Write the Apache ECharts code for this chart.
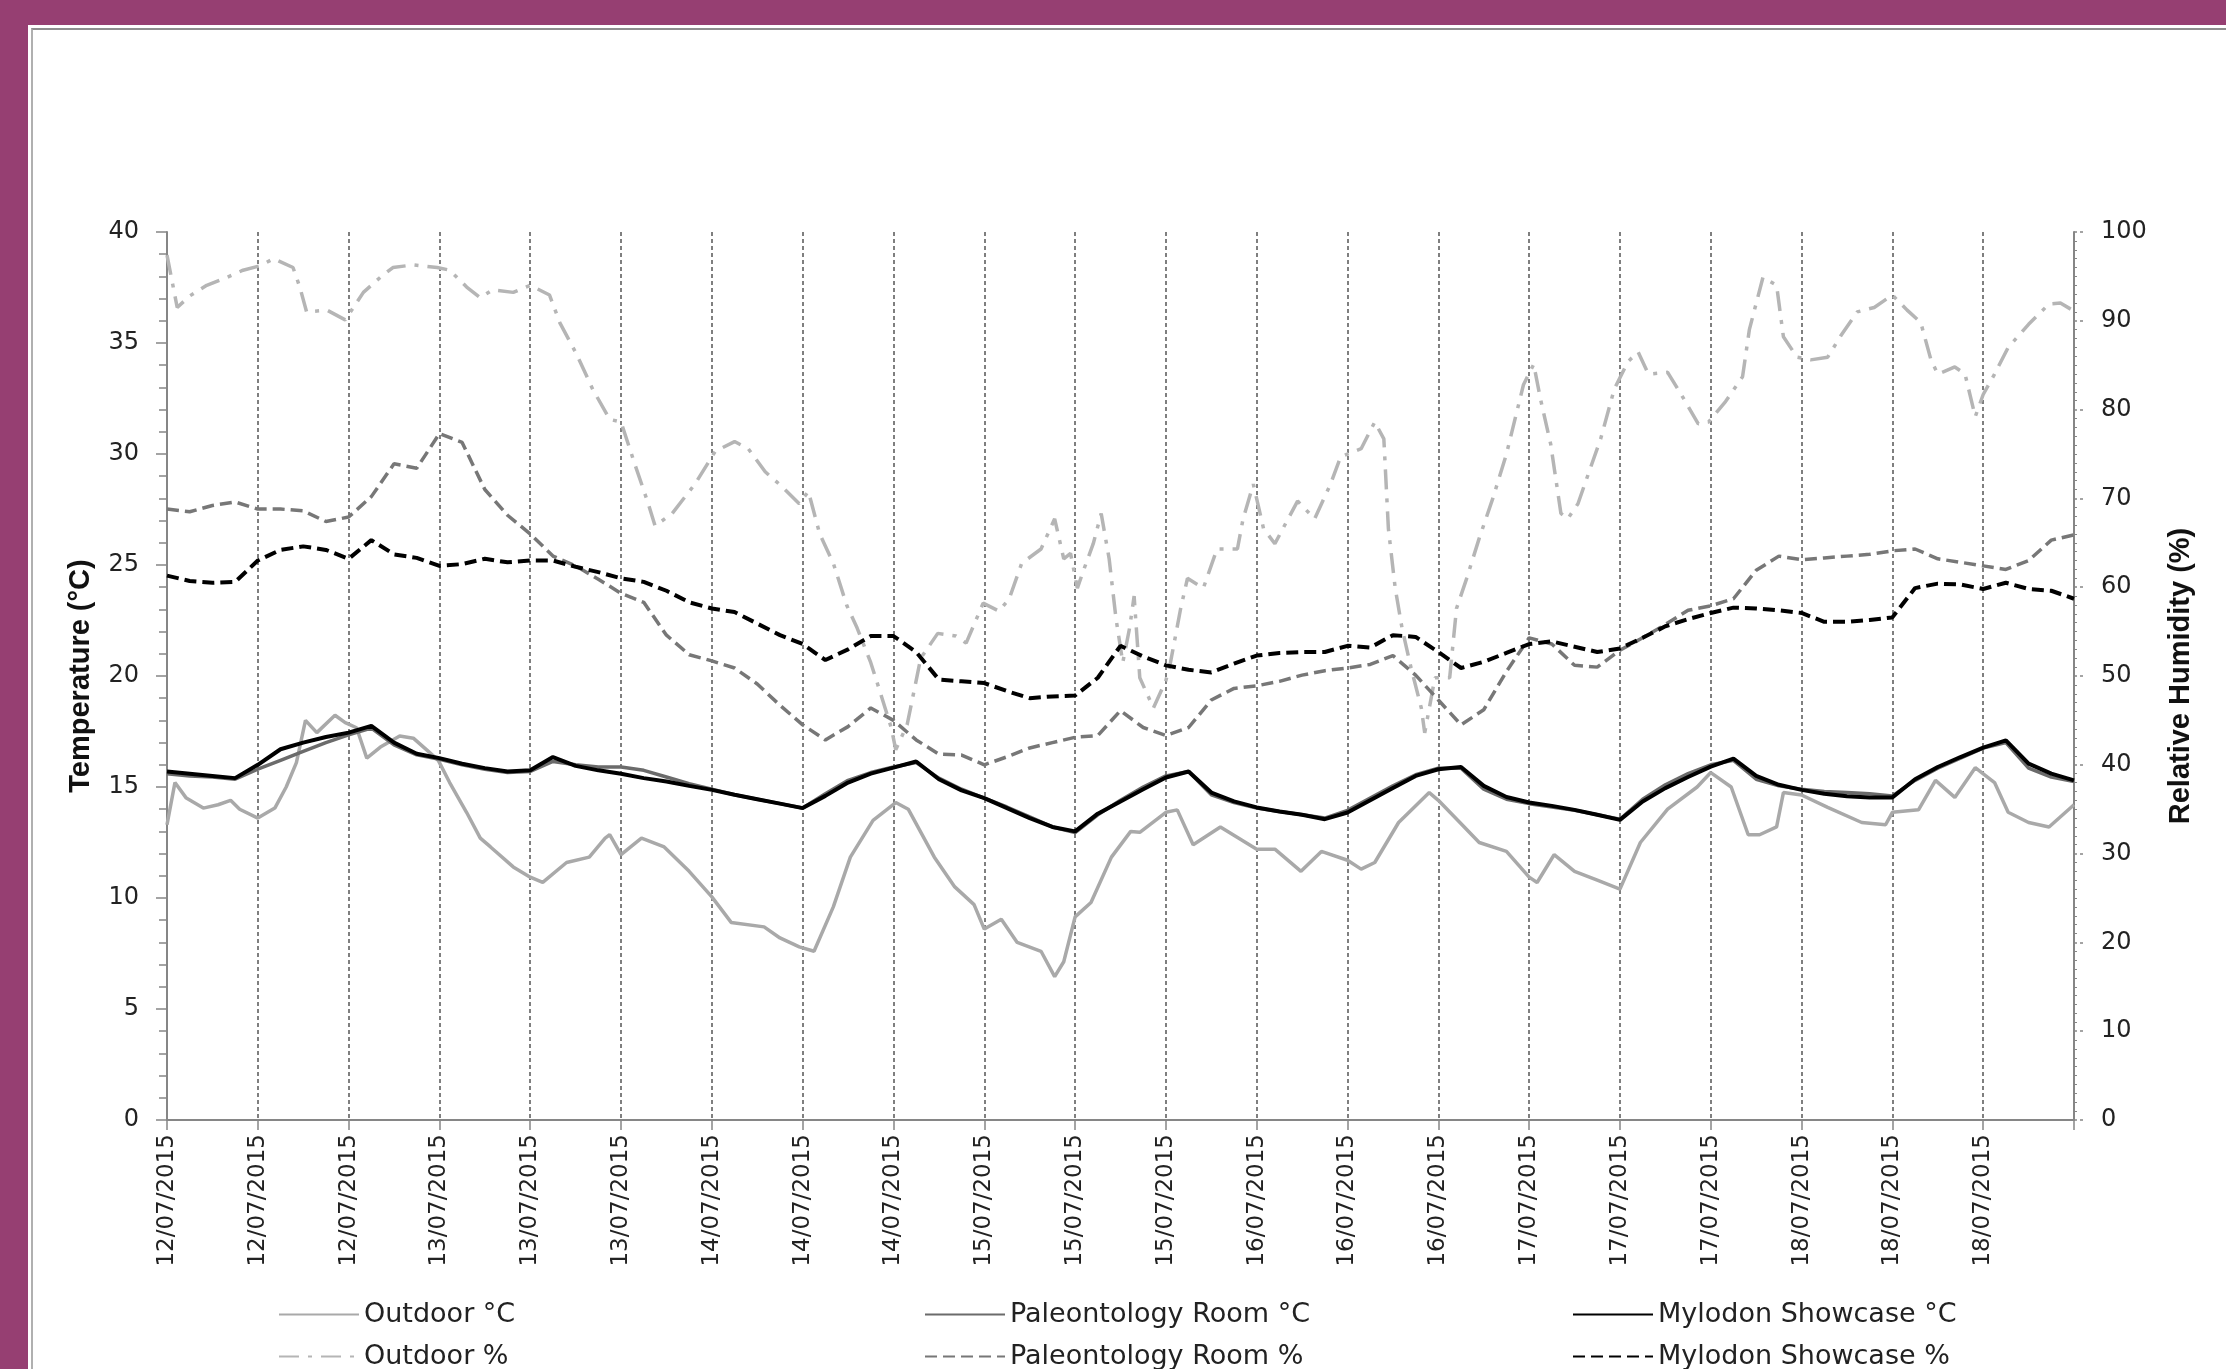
<!DOCTYPE html>
<html>
<head>
<meta charset="utf-8">
<script src="https://cdn.jsdelivr.net/npm/echarts@6/dist/echarts.min.js"></script>
<style>
  html, body { margin: 0; padding: 0; width: 2226px; height: 1369px; overflow: hidden; background: #963f72; }
  #frame { position: absolute; left: 28px; top: 25px; width: 2198px; height: 1344px; background: #fff; }
  #edge { position: absolute; left: 31px; top: 28px; width: 2195px; height: 1341px; border-top: 2px solid #8e8e8e; border-left: 2px solid #b0b0b0; box-sizing: border-box; }
  #chart { position: absolute; left: 0; top: 0; width: 2226px; height: 1369px; }
</style>
</head>
<body>
<div id="frame"></div>
<div id="edge"></div>
<div id="chart"></div>
<script>
// tick labels, one every 8 hours (12/07/2015 00:00 -> 19/07/2015 00:00)
var dateLabels = ['12/07/2015','12/07/2015','12/07/2015','13/07/2015','13/07/2015','13/07/2015',
	'14/07/2015','14/07/2015','14/07/2015','15/07/2015','15/07/2015','15/07/2015',
	'16/07/2015','16/07/2015','16/07/2015','17/07/2015','17/07/2015','17/07/2015',
	'18/07/2015','18/07/2015','18/07/2015'];

// hours since start, 2-hourly (indoor loggers)
var hours = [0,2,4,6,8,10,12,14,16,18,20,22,24,26,28,30,32,34,36,38,40,42,44,46,48,50,
	52,54,56,58,60,62,64,66,68,70,72,74,76,78,80,82,84,86,88,90,92,94,96,98,100,102,104,
	106,108,110,112,114,116,118,120,122,124,126,128,130,132,134,136,138,140,142,144,146,
	148,150,152,154,156,158,160,162,164,166,168];

var paleoTemp = [15.6,15.5,15.45,15.35,15.8,16.2,16.6,17.0,17.35,17.65,
	16.9,16.45,16.25,16.0,15.8,15.65,15.7,16.15,16.0,15.9,
	15.9,15.75,15.45,15.15,14.9,14.65,14.45,14.25,14.05,14.7,
	15.3,15.65,15.9,16.1,15.4,14.9,14.5,14.1,13.65,13.2,
	12.95,13.75,14.4,15.0,15.5,15.7,14.65,14.3,14.05,13.9,
	13.75,13.6,13.95,14.5,15.05,15.55,15.85,15.85,14.9,14.45,
	14.25,14.1,13.95,13.75,13.55,14.45,15.1,15.6,16.0,16.2,
	15.35,15.05,14.9,14.8,14.75,14.7,14.6,15.3,15.85,16.3,
	16.75,17.0,15.85,15.45,15.25];

var myloTemp = [15.7,15.6,15.5,15.4,16.0,16.7,17.0,17.25,17.45,17.75,
	17.0,16.5,16.3,16.05,15.85,15.7,15.75,16.35,15.95,15.75,
	15.6,15.4,15.25,15.05,14.87,14.65,14.45,14.25,14.05,14.6,
	15.2,15.6,15.87,16.15,15.35,14.85,14.5,14.05,13.6,13.2,
	13.0,13.8,14.35,14.9,15.43,15.7,14.75,14.35,14.08,13.9,
	13.75,13.55,13.85,14.4,14.95,15.5,15.8,15.9,15.05,14.55,
	14.3,14.15,13.97,13.75,13.52,14.35,14.95,15.45,15.92,16.28,
	15.5,15.1,14.87,14.7,14.58,14.53,14.53,15.35,15.9,16.35,
	16.77,17.1,16.05,15.6,15.3];

var paleoRH = [68.8,68.5,69.2,69.6,68.8,68.8,68.6,67.4,67.9,70.2,
	73.9,73.4,77.3,76.3,71.0,68.1,66.0,63.5,62.4,60.9,
	59.3,58.3,54.6,52.4,51.7,50.9,49.1,46.7,44.5,42.8,
	44.3,46.4,45.0,42.8,41.2,41.1,40.0,40.9,41.9,42.5,
	43.1,43.3,46.1,44.2,43.3,44.2,47.3,48.6,48.9,49.4,
	50.1,50.6,50.9,51.3,52.3,50.1,47.3,44.5,46.2,50.5,
	54.3,53.6,51.2,51.0,52.9,54.3,55.8,57.4,57.9,58.7,
	61.9,63.5,63.1,63.3,63.5,63.7,64.1,64.3,63.2,62.8,
	62.4,62.0,63.0,65.3,65.9];

var myloRH = [61.3,60.7,60.5,60.6,63.0,64.2,64.6,64.2,63.2,65.3,
	63.7,63.3,62.4,62.6,63.2,62.8,63.0,63.0,62.3,61.7,
	61.0,60.6,59.6,58.3,57.6,57.2,55.9,54.6,53.6,51.8,
	53.0,54.5,54.5,52.7,49.6,49.4,49.2,48.3,47.5,47.7,
	47.8,49.8,53.4,52.2,51.2,50.7,50.4,51.4,52.3,52.6,
	52.7,52.7,53.4,53.2,54.6,54.4,52.7,50.9,51.6,52.6,
	53.6,53.9,53.3,52.7,53.1,54.3,55.6,56.4,57.1,57.7,
	57.6,57.4,57.1,56.1,56.1,56.3,56.6,59.9,60.4,60.3,
	59.8,60.5,59.8,59.6,58.7];

// outdoor station, read at irregular times (hours since start)
var outdoorTempHours = [0,0.7,1.7,3.2,4.5,5.6,6.4,8,9.5,10.5,11.4,12.2,13.2,14.8,15.7,16.7,17.6,18.8,20.5,21.7,
	22.9,23.9,24.9,26.4,27.6,28.5,30.5,32,33.1,35.2,37.2,38.6,39,40,41.8,43.8,46,48,49.7,52.6,
	54,55.7,57,58.7,60.2,62.2,64.2,65.3,67.6,69.4,71.1,72,73.5,74.9,77,78.2,79,80,81.4,83.2,
	84.9,85.7,88,89,90.4,92.8,96,97.6,99.9,101.7,104,105.2,106.4,108.5,111.2,112,113.9,115.6,118,120,
	120.7,122.2,124,126,128,129.8,132.2,134.8,136,137.8,139.3,140.3,141.8,142.4,144,146.3,149.3,151.4,152,154.3,
	155.8,157.5,159.3,161,162.2,164,165.8,168];
var outdoorTemp = [13.3,15.2,14.5,14.05,14.2,14.4,14.0,13.6,14.05,15.0,16.1,18.0,17.45,18.23,17.9,17.67,16.3,16.8,17.3,17.2,
	16.66,16.2,15.2,13.85,12.7,12.3,11.4,10.94,10.7,11.6,11.84,12.7,12.85,11.95,12.7,12.3,11.2,10.05,8.9,8.7,
	8.2,7.8,7.6,9.6,11.84,13.5,14.3,14.0,11.84,10.5,9.7,8.6,9.04,8.0,7.6,6.46,7.13,9.15,9.8,11.84,
	13.0,12.96,13.86,13.97,12.4,13.2,12.2,12.2,11.2,12.1,11.7,11.3,11.6,13.4,14.75,14.4,13.4,12.5,12.1,10.94,
	10.7,11.95,11.2,10.8,10.4,12.5,14.0,15.0,15.65,15.0,12.85,12.85,13.2,14.75,14.64,14.08,13.4,13.3,13.86,13.97,
	15.3,14.53,15.87,15.2,13.86,13.4,13.2,14.2];

var outdoorRHHours = [0,0.9,2,3.5,5.3,6.7,8.2,9.4,11.1,11.7,12.3,14.1,15.7,17.3,18.8,19.9,21.7,23.8,24.9,26.4,
	27.6,28.7,30.5,32,33.7,34.6,36.1,37.5,39,40,41.2,42.4,43,44.5,46.5,48.3,50,51.2,52.7,54.2,
	55.7,56.5,57.5,58.7,59.9,60.8,62,62.7,63.8,64.2,65.2,66.4,67.9,69.5,70.4,71.9,73.3,74.2,75.3,77,
	78.2,79,79.6,80.2,80.8,81.6,82.3,83,83.6,84.2,84.8,85.2,85.7,86.9,88,88.4,89.3,89.9,91.3,92.5,
	94.3,94.8,95.7,96.6,97.6,99.6,101.1,102.5,103.4,105.2,106.4,107.2,107.6,108.2,108.8,109.6,110.5,110.8,111.7,113,
	113.6,114.5,115.6,116.8,118,119.5,120.4,121,121.9,122.8,123.4,124.3,125.2,126.3,127.5,128.7,129.6,130.5,132.2,133.4,
	134.9,135.8,137.3,138.8,139.4,140.6,141.8,142.4,143.6,144.8,146.3,147.5,148.9,150.4,152,153.3,154.5,155.4,156,157.5,
	158.4,159.3,160,161,162.2,164,165.8,166.8,168];
var outdoorRH = [97.4,91.5,92.8,94.0,94.9,95.7,96.2,97.0,96.0,93.8,91.0,91.2,90.1,93.2,94.9,96.0,96.3,96.0,95.7,93.8,
	92.6,93.5,93.2,94.0,92.9,89.8,86.2,82.3,78.9,78.6,73.9,69.4,66.9,68.3,71.6,75.3,76.4,75.6,73.0,71.3,
	69.4,70.8,66.0,62.7,57.9,55.4,51.5,48.7,44.2,41.7,44.5,52.0,54.8,54.5,53.7,58.2,57.3,58.7,62.7,64.3,
	67.7,63.2,63.8,59.9,62.1,64.9,68.3,63.2,56.5,51.5,55.4,59.0,49.8,46.4,49.5,51.5,57.6,61.0,59.9,64.3,
	64.3,67.7,71.6,66.6,64.9,69.7,67.7,71.6,74.7,75.6,78.6,76.7,66.6,59.9,55.4,50.9,46.4,43.6,49.8,49.8,
	57.6,61.0,65.5,70.0,75.0,82.8,85.1,81.2,76.1,68.3,67.7,69.4,72.7,76.7,82.3,85.4,86.5,84.0,84.2,81.7,
	78.4,78.6,80.9,83.7,89.0,94.9,94.0,88.2,85.9,85.6,85.9,88.4,91.0,91.5,92.9,91.2,89.8,85.6,84.0,84.8,
	84.0,79.2,81.7,84.0,87.0,89.6,91.9,92.0,91.1];

function pairs(xs, ys) {
	var out = [];
	for (var i = 0; i < ys.length; i++) out.push([xs[i], ys[i]]);
	return out;
}

var tickFont = { fontFamily: 'DejaVu Sans', fontSize: 24, color: '#222' };
var titleFont = { fontFamily: 'Liberation Sans', fontWeight: 'bold', fontSize: 29, color: '#111' };
var axisGrey = '#868686';

var myChart = echarts.init(document.getElementById('chart'), null, { renderer: 'canvas' });

// one legend per entry so the three columns line up like the original
function legendItem(left, top, name) {
	return {
		left: left,
		top: top,
		itemWidth: 80,
		itemHeight: 14,
		padding: 0,
		data: [name],
		itemStyle: { opacity: 0, borderWidth: 0 },
		textStyle: { fontFamily: 'DejaVu Sans', fontSize: 27, color: '#222' }
	};
}

var option = {
	backgroundColor: 'transparent',
	animation: false,
	grid: { left: 167, right: 152, top: 232, bottom: 249, containLabel: false, outerBoundsMode: 'none' },
	legend: [
		legendItem(278, 1301, 'Outdoor °C'),
		legendItem(278, 1343, 'Outdoor %'),
		legendItem(924, 1301, 'Paleontology Room °C'),
		legendItem(924, 1343, 'Paleontology Room %'),
		legendItem(1572, 1301, 'Mylodon Showcase °C'),
		legendItem(1572, 1343, 'Mylodon Showcase %')
	],
	xAxis: {
		type: 'value',
		min: 0,
		max: 168,
		interval: 8,
		axisLine: { show: true, lineStyle: { color: axisGrey, width: 2 } },
		axisTick: { show: true, length: 10, lineStyle: { color: axisGrey, width: 1.5 } },
		axisLabel: {
			rotate: 90,
			margin: 14,
			fontFamily: 'DejaVu Sans', fontSize: 23, color: '#222',
			formatter: function (v) {
				if (v >= 168) return '';
				return dateLabels[Math.round(v / 8)];
			}
		},
		splitLine: { show: true, lineStyle: { color: '#555', width: 1.5, type: [4, 3] } }
	},
	yAxis: [
		{
			type: 'value',
			min: 0, max: 40, interval: 5,
			name: 'Temperature (°C)',
			nameLocation: 'middle',
			nameRotate: 90,
			nameGap: 72,
			nameTextStyle: titleFont,
			axisLine: { show: true, lineStyle: { color: axisGrey, width: 2 } },
			axisTick: { show: true, length: 11, lineStyle: { color: axisGrey, width: 1.5 } },
			minorTick: { show: true, splitNumber: 5, length: 8, lineStyle: { color: axisGrey, width: 1.5 } },
			axisLabel: Object.assign({ margin: 28 }, tickFont),
			splitLine: { show: false }
		},
		{
			type: 'value',
			min: 0, max: 100, interval: 10,
			position: 'right',
			name: 'Relative Humidity (%)',
			nameLocation: 'middle',
			nameRotate: 90,
			nameGap: 92,
			nameTextStyle: titleFont,
			axisLine: { show: true, lineStyle: { color: axisGrey, width: 2 } },
			axisTick: { show: true, length: 10, lineStyle: { color: axisGrey, width: 1.5, type: [3, 3] } },
			minorTick: { show: true, splitNumber: 10, length: 3, lineStyle: { color: axisGrey, width: 1 } },
			axisLabel: Object.assign({ margin: 27 }, tickFont),
			splitLine: { show: false }
		}
	],
	series: [
		{
			name: 'Outdoor °C', type: 'line', yAxisIndex: 0, symbol: 'none',
			data: pairs(outdoorTempHours, outdoorTemp),
			lineStyle: { color: '#a9a9a9', width: 3.5 }, itemStyle: { color: '#a9a9a9' }
		},
		{
			name: 'Outdoor %', type: 'line', yAxisIndex: 1, symbol: 'none',
			data: pairs(outdoorRHHours, outdoorRH),
			lineStyle: { color: '#b5b5b5', width: 3.5, type: [20, 9, 4, 9] }, itemStyle: { color: '#b5b5b5' }
		},
		{
			name: 'Paleontology Room %', type: 'line', yAxisIndex: 1, symbol: 'none',
			data: pairs(hours, paleoRH),
			lineStyle: { color: '#777', width: 3.5, type: [12, 6] }, itemStyle: { color: '#777' }
		},
		{
			name: 'Mylodon Showcase %', type: 'line', yAxisIndex: 1, symbol: 'none',
			data: pairs(hours, myloRH),
			lineStyle: { color: '#000', width: 4, type: [12, 6] }, itemStyle: { color: '#000' }
		},
		{
			name: 'Paleontology Room °C', type: 'line', yAxisIndex: 0, symbol: 'none',
			data: pairs(hours, paleoTemp),
			lineStyle: { color: '#6b6b6b', width: 3.5 }, itemStyle: { color: '#6b6b6b' }
		},
		{
			name: 'Mylodon Showcase °C', type: 'line', yAxisIndex: 0, symbol: 'none',
			data: pairs(hours, myloTemp),
			lineStyle: { color: '#000', width: 4 }, itemStyle: { color: '#000' }
		}
	]
};

myChart.setOption(option);
window.addEventListener('resize', function () {
	myChart.resize();
});
</script>
</body>
</html>
